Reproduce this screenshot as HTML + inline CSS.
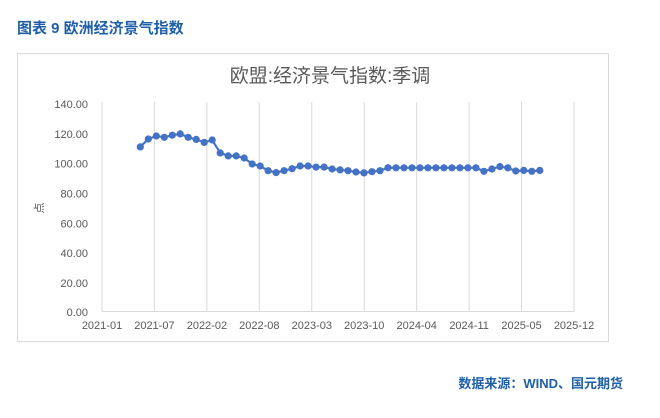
<!DOCTYPE html>
<html><head><meta charset="utf-8"><style>
html,body{margin:0;padding:0;background:#fff;width:660px;height:418px;overflow:hidden}
</style></head><body>
<svg width="660" height="418" xmlns="http://www.w3.org/2000/svg" font-family="'Liberation Sans','Noto Sans CJK SC',sans-serif">
<defs><marker id="m" markerWidth="8" markerHeight="8" refX="4" refY="4" markerUnits="userSpaceOnUse"><circle cx="4" cy="4" r="3.6" fill="#4472c4"/></marker></defs>
<text x="17" y="33" font-size="15" font-weight="bold" fill="#1f5fa8">图表 9  欧洲经济景气指数</text>
<rect x="17.5" y="53.5" width="591" height="288" fill="#fff" stroke="#d9d9d9"/>
<text x="330" y="82" font-size="19" fill="#595959" text-anchor="middle">欧盟:经济景气指数:季调</text>
<g stroke="#d9d9d9" stroke-width="1">
<line x1="102" y1="102" x2="102" y2="311.5"/><line x1="154.4" y1="102" x2="154.4" y2="311.5"/>
<line x1="206.9" y1="102" x2="206.9" y2="311.5"/><line x1="259.3" y1="102" x2="259.3" y2="311.5"/>
<line x1="311.8" y1="102" x2="311.8" y2="311.5"/><line x1="364.2" y1="102" x2="364.2" y2="311.5"/>
<line x1="416.7" y1="102" x2="416.7" y2="311.5"/><line x1="469.1" y1="102" x2="469.1" y2="311.5"/>
<line x1="521.6" y1="102" x2="521.6" y2="311.5"/><line x1="574" y1="102" x2="574" y2="311.5"/>
<line x1="102" y1="311.5" x2="574" y2="311.5"/>
</g>
<g font-size="11" fill="#595959" text-anchor="end">
<text x="88" y="108">140.00</text><text x="88" y="137.8">120.00</text><text x="88" y="167.7">100.00</text>
<text x="88" y="197.5">80.00</text><text x="88" y="227.4">60.00</text><text x="88" y="257.2">40.00</text>
<text x="88" y="287.1">20.00</text><text x="88" y="316">0.00</text>
</g>
<g font-size="11" fill="#595959" text-anchor="middle">
<text x="102" y="329">2021-01</text><text x="154.4" y="329">2021-07</text><text x="206.9" y="329">2022-02</text>
<text x="259.3" y="329">2022-08</text><text x="311.8" y="329">2023-03</text><text x="364.2" y="329">2023-10</text>
<text x="416.7" y="329">2024-04</text><text x="469.1" y="329">2024-11</text><text x="521.6" y="329">2025-05</text>
<text x="574" y="329">2025-12</text>
</g>
<text x="43" y="208" font-size="11" fill="#595959" text-anchor="middle" transform="rotate(-90 43 208)">点</text>
<polyline fill="none" stroke="#4472c4" stroke-width="2.2" marker-start="url(#m)" marker-mid="url(#m)" marker-end="url(#m)" points="140.3,146.9 148.3,139.0 156.3,136.0 164.3,137.3 172.3,135.2 180.2,133.9 188.2,137.3 196.2,139.4 204.2,142.4 212.2,140.0 220.2,152.9 228.2,155.9 236.2,155.9 244.2,158.0 252.2,164.0 260.2,166.0 268.1,170.7 276.1,172.6 284.1,170.7 292.1,168.7 300.1,166.0 308.1,166.0 316.1,167.1 324.1,167.1 332.1,169.0 340.1,169.9 348.0,170.7 356.0,172.0 364.0,172.9 372.0,171.7 380.0,170.7 388.0,167.7 396.0,167.8 404.0,167.8 412.0,167.8 420.0,167.8 427.9,167.8 435.9,167.8 443.9,167.8 451.9,167.8 459.9,167.8 467.9,167.8 475.9,167.8 483.9,171.3 491.9,169.0 499.9,166.6 507.8,167.8 515.8,171.0 523.8,170.4 531.8,171.3 539.8,170.4"/>
<text x="623" y="388" font-size="13" font-weight="bold" fill="#1f5fa8" text-anchor="end">数据来源：WIND、国元期货</text>
</svg>
</body></html>
